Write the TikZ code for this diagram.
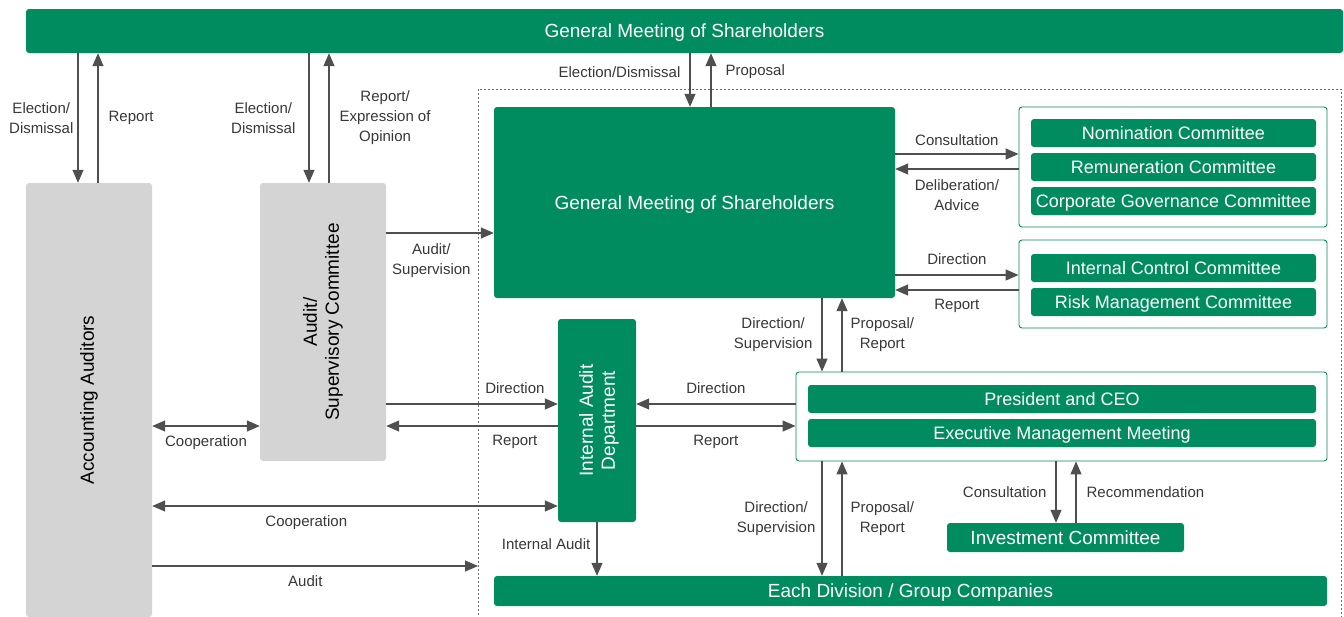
\documentclass[tikz,border=0pt]{standalone}
\usepackage{fontspec}
\setmainfont{Liberation Sans}
\usetikzlibrary{arrows.meta}

\definecolor{grn}{RGB}{0,140,94}
\definecolor{boxgray}{RGB}{212,212,212}
\definecolor{arrgray}{RGB}{80,78,78}
\definecolor{txtgray}{RGB}{55,55,55}
\definecolor{dotgray}{RGB}{110,110,110}

\begin{document}
\begin{tikzpicture}[
      x=1pt, y=-1pt,
      % boxes
      greenbox/.style={fill=grn, text=white, rounded corners=3pt, inner sep=0pt, text depth=0pt,
        font=\fontsize{19}{22}\selectfont},
      smallgreen/.style={greenbox, font=\fontsize{18}{21}\selectfont},
      graybox/.style={fill=boxgray, text=black, rounded corners=3pt, inner sep=0pt,
        align=center, font=\fontsize{19}{22}\selectfont},
      groupbox/.style={draw=grn, fill=white, rounded corners=3pt, line width=0.9pt, inner sep=0pt},
      % connectors and their labels
      arr/.style={draw=arrgray, line width=1.3pt, -{Triangle[length=13pt,width=11pt]}},
      dblarr/.style={arr, {Triangle[length=13pt,width=11pt]}-{Triangle[length=13pt,width=11pt]}},
      lbl/.style={text=txtgray, inner sep=1pt, align=center, font=\fontsize{15}{20}\selectfont}
  ]
  \useasboundingbox (0,0) rectangle (1344,616);
  \clip (0,0) rectangle (1344,616);

  %%%%%%%%%%%%%%%%%%%%%%%%%%%%%%%%%%%%%%%%%%%%%%%%%%%%%%%%
  % Top bar and the two outside bodies
  %%%%%%%%%%%%%%%%%%%%%%%%%%%%%%%%%%%%%%%%%%%%%%%%%%%%%%%%
  \node[greenbox, minimum width=1317, minimum height=44] (top) at (684.5,31) {General Meeting of Shareholders};

  \node[graybox, rotate=90, minimum width=434, minimum height=126] (acc) at (89,400) {Accounting Auditors};
  \node[graybox, rotate=90, minimum width=278, minimum height=126] (aud) at (323,322) {Audit/\\Supervisory Committee};

  % dotted frame round the executing side
  \draw[dotgray, line width=0.9pt, dash pattern=on 2pt off 2pt] (478,89) rectangle (1341,640);
  \coordinate (frameW) at (478,566);

  %%%%%%%%%%%%%%%%%%%%%%%%%%%%%%%%%%%%%%%%%%%%%%%%%%%%%%%%
  % Inside the frame
  %%%%%%%%%%%%%%%%%%%%%%%%%%%%%%%%%%%%%%%%%%%%%%%%%%%%%%%%
  \node[greenbox, minimum width=401, minimum height=191] (board) at (694.5,202.5) {General Meeting of Shareholders};

  % committee groups
  \node[groupbox, minimum width=308, minimum height=120] (grpA) at (1173,167) {};
  \node[smallgreen, minimum width=285, minimum height=28] (nom) at (1173.5,133) {Nomination Committee};
  \node[smallgreen, minimum width=285, minimum height=28] (rem) at (1173.5,167) {Remuneration Committee};
  \node[smallgreen, minimum width=285, minimum height=28] (cgc) at (1173.5,201) {Corporate Governance Committee};

  \node[groupbox, minimum width=308, minimum height=88] (grpB) at (1173,284) {};
  \node[smallgreen, minimum width=285, minimum height=28] (icc) at (1173.5,268) {Internal Control Committee};
  \node[smallgreen, minimum width=285, minimum height=28] (rmc) at (1173.5,302) {Risk Management Committee};

  \node[groupbox, minimum width=531, minimum height=89] (grpC) at (1061.5,416.5) {};
  \node[smallgreen, minimum width=508, minimum height=28] (ceo) at (1062,399) {President and CEO};
  \node[smallgreen, minimum width=508, minimum height=28] (emm) at (1062,433) {Executive Management Meeting};

  \node[greenbox, rotate=90, align=center, minimum width=203, minimum height=78] (iad) at (597,420.5) {Internal Audit\\Department};
  \node[greenbox, minimum width=237, minimum height=29] (inv) at (1065.5,537.5) {Investment Committee};
  \node[greenbox, minimum width=833, minimum height=30] (div) at (910.5,591) {Each Division / Group Companies};

  %%%%%%%%%%%%%%%%%%%%%%%%%%%%%%%%%%%%%%%%%%%%%%%%%%%%%%%%
  % Connectors from the top bar
  %%%%%%%%%%%%%%%%%%%%%%%%%%%%%%%%%%%%%%%%%%%%%%%%%%%%%%%%
  \draw[arr] (top.south -| 78,0) -- (acc.east -| 78,0)
    node[midway, lbl, left=3pt] {Election/\\Dismissal};
  \draw[arr] (acc.east -| 98,0) -- (top.south -| 98,0)
    node[midway, lbl, right=9pt] {Report};

  \draw[arr] (top.south -| 309,0) -- (aud.east -| 309,0)
    node[midway, lbl, left=12pt] {Election/\\Dismissal};
  \draw[arr] (aud.east -| 329,0) -- (top.south -| 329,0)
    node[midway, lbl, right=9pt] {Report/\\Expression of\\Opinion};

  \draw[arr] (top.south -| 690,0) -- (board.north -| 690,0)
    node[pos=0.35, lbl, left=8pt] {Election/Dismissal};
  \draw[arr] (board.north -| 711,0) -- (top.south -| 711,0)
    node[pos=0.65, lbl, right=13pt] {Proposal};

  %%%%%%%%%%%%%%%%%%%%%%%%%%%%%%%%%%%%%%%%%%%%%%%%%%%%%%%%
  % Board and committees
  %%%%%%%%%%%%%%%%%%%%%%%%%%%%%%%%%%%%%%%%%%%%%%%%%%%%%%%%
  \draw[arr] (aud.south |- 0,233) -- (board.west |- 0,233)
    node[pos=0.42, lbl, below=9pt] {Audit/\\Supervision};

  \draw[arr] (board.east |- 0,154) -- (grpA.west |- 0,154)
    node[midway, lbl, above=7pt] {Consultation};
  \draw[arr] (grpA.west |- 0,169) -- (board.east |- 0,169)
    node[midway, lbl, below=9pt] {Deliberation/\\Advice};

  \draw[arr] (board.east |- 0,275) -- (grpB.west |- 0,275)
    node[midway, lbl, above=9pt] {Direction};
  \draw[arr] (grpB.west |- 0,290) -- (board.east |- 0,290)
    node[midway, lbl, below=8pt] {Report};

  \draw[arr] (board.south -| 822,0) -- (grpC.north -| 822,0)
    node[midway, lbl, left=8pt] {Direction/\\Supervision};
  \draw[arr] (grpC.north -| 842,0) -- (board.south -| 842,0)
    node[midway, lbl, right=7pt] {Proposal/\\Report};

  %%%%%%%%%%%%%%%%%%%%%%%%%%%%%%%%%%%%%%%%%%%%%%%%%%%%%%%%
  % Internal Audit Department
  %%%%%%%%%%%%%%%%%%%%%%%%%%%%%%%%%%%%%%%%%%%%%%%%%%%%%%%%
  \draw[arr] (aud.south |- 0,404) -- (iad.north |- 0,404)
    node[pos=0.75, lbl, above=9pt] {Direction};
  \draw[arr] (iad.north |- 0,426) -- (aud.south |- 0,426)
    node[pos=0.25, lbl, below=8pt] {Report};

  \draw[arr] (grpC.west |- 0,404) -- (iad.south |- 0,404)
    node[midway, lbl, above=9pt] {Direction};
  \draw[arr] (iad.south |- 0,426) -- (grpC.west |- 0,426)
    node[midway, lbl, below=8pt] {Report};

  \draw[arr] (iad.west -| 597,0) -- (div.north -| 597,0)
    node[pos=0.4, lbl, left=5pt] {Internal Audit};

  %%%%%%%%%%%%%%%%%%%%%%%%%%%%%%%%%%%%%%%%%%%%%%%%%%%%%%%%
  % Accounting Auditors
  %%%%%%%%%%%%%%%%%%%%%%%%%%%%%%%%%%%%%%%%%%%%%%%%%%%%%%%%
  \draw[dblarr] (acc.south |- 0,426) -- (aud.north |- 0,426)
    node[midway, lbl, below=8pt] {Cooperation};
  \draw[dblarr] (acc.south |- 0,506) -- (iad.north |- 0,506)
    node[pos=0.38, lbl, below=8pt] {Cooperation};
  \draw[arr] (acc.south |- frameW) -- (frameW)
    node[pos=0.47, lbl, below=8pt] {Audit};

  %%%%%%%%%%%%%%%%%%%%%%%%%%%%%%%%%%%%%%%%%%%%%%%%%%%%%%%%
  % Executive side downwards
  %%%%%%%%%%%%%%%%%%%%%%%%%%%%%%%%%%%%%%%%%%%%%%%%%%%%%%%%
  \draw[arr] (grpC.south -| 822,0) -- (div.north -| 822,0)
    node[midway, lbl, left=5pt] {Direction/\\Supervision};
  \draw[arr] (div.north -| 842,0) -- (grpC.south -| 842,0)
    node[midway, lbl, right=7pt] {Proposal/\\Report};

  \draw[arr] (grpC.south -| 1056,0) -- (inv.north -| 1056,0)
    node[midway, lbl, left=8pt] {Consultation};
  \draw[arr] (inv.north -| 1076,0) -- (grpC.south -| 1076,0)
    node[midway, lbl, right=9pt] {Recommendation};

\end{tikzpicture}
\end{document}
